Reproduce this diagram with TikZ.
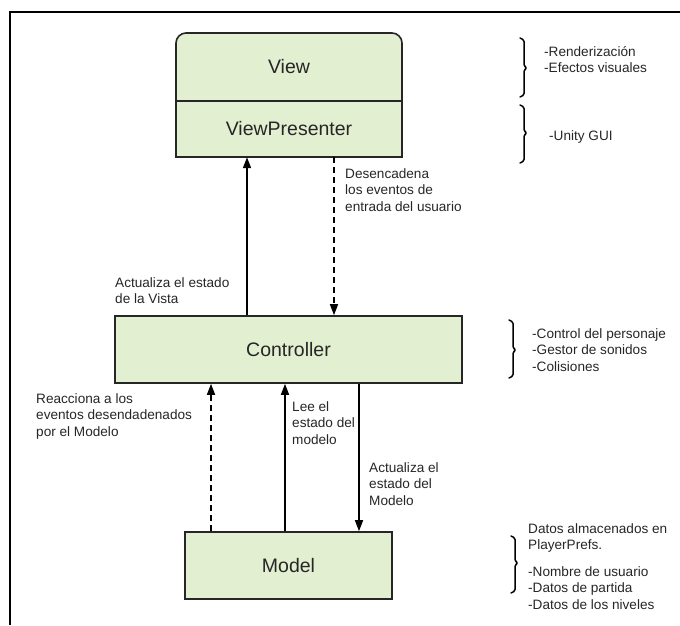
\documentclass[tikz,border=0pt]{standalone}
\usepackage{fontspec}
\setmainfont{Liberation Sans}
\usetikzlibrary{arrows.meta}
\definecolor{boxfill}{HTML}{E2EFD0}
\definecolor{ink}{HTML}{262626}
% right-hand bracket: x, top, middle, bottom
\newcommand\sidebrace[4]{%
  \draw[brk] ({#1-4},#2) -- (#1,{#2+2}) -- (#1,{#3-2}) -- ({#1+3},#3)
    -- (#1,{#3+2}) -- (#1,{#4-2}) -- ({#1-4},#4);}
\begin{document}
\begin{tikzpicture}[x=1pt,y=-1pt,
  box/.style={draw=ink, line width=1.6pt, fill=boxfill},
  boxlabel/.style={font=\fontsize{19.5}{23}\selectfont, text=ink},
  note/.style={font=\fontsize{13.6}{16.6}\selectfont, text=ink, align=left,
    inner sep=0pt, anchor=north west},
  link/.style={line width=1.6pt, draw=black, -{Triangle[length=11pt,width=8pt]}},
  evt/.style={link, dash pattern=on 6pt off 4pt},
  brk/.style={line width=1.5pt, rounded corners=1.5pt, line cap=round}
]
\useasboundingbox (0,0) rectangle (680,625);

% outer frame
\draw[line width=1.3pt] (680,12) -- (10,12) -- (10,625);

% View / ViewPresenter block with rounded top corners
\draw[box] (176,157) -- (176,43) .. controls (176,37.5) and (180.5,33) .. (186,33)
  -- (392,33) .. controls (397.5,33) and (402,37.5) .. (402,43) -- (402,157) -- cycle;
\node[boxlabel, minimum width=226pt, minimum height=68pt, inner sep=0pt] (view) at (289,67) {View};
\node[boxlabel, minimum width=226pt, minimum height=56pt, inner sep=0pt] (vp) at (289,129) {ViewPresenter};
\draw[draw=ink, line width=1.6pt] (view.south west) -- (view.south east);

% Controller and Model
\node[box, boxlabel, minimum width=347pt, minimum height=67pt, inner sep=0pt] (ctrl) at (288.5,349.5) {Controller};
\node[box, boxlabel, minimum width=207pt, minimum height=67pt, inner sep=0pt] (model) at (288.5,565.5) {Model};

% connector columns
\coordinate (c1) at (247,0);
\coordinate (c2) at (334,0);
\coordinate (c3) at (211,0);
\coordinate (c4) at (285,0);
\coordinate (c5) at (359,0);

\draw[link] (ctrl.north -| c1) -- (vp.south -| c1);
\draw[evt]  (vp.south -| c2) -- (ctrl.north -| c2);
\draw[evt]  (model.north -| c3) -- (ctrl.south -| c3);
\draw[link] (model.north -| c4) -- (ctrl.south -| c4);
\draw[link] (ctrl.south -| c5) -- (model.north -| c5);

% connector labels
\node[note] (n1) at (115,277) {Actualiza el estado\\de la Vista};
\node[note] (n2) at (345,168) {Desencadena\\los eventos de\\entrada del usuario};
\node[note] (n3) at (36,393) {Reacciona a los\\eventos desendadenados\\por el Modelo};
\node[note] (n4) at (292,401) {Lee el\\estado del\\modelo};
\node[note] (n5) at (369,462) {Actualiza el\\estado del\\Modelo};

% side notes
\sidebrace{524}{38}{68}{97}
\node[note] (s1) at (544,46) {-Renderización\\-Efectos visuales};
\sidebrace{524}{105}{133}{163}
\node[note] (s2) at (549,130) {-Unity GUI};
\sidebrace{513}{320}{350}{378}
\node[note] (s3) at (532,328) {-Control del personaje\\-Gestor de sonidos\\-Colisiones};
\sidebrace{515}{536}{563}{593}
\node[note] (s4) at (528,523) {Datos almacenados en\\PlayerPrefs.\\[10pt]-Nombre de usuario\\-Datos de partida\\-Datos de los niveles};
\end{tikzpicture}
\end{document}
